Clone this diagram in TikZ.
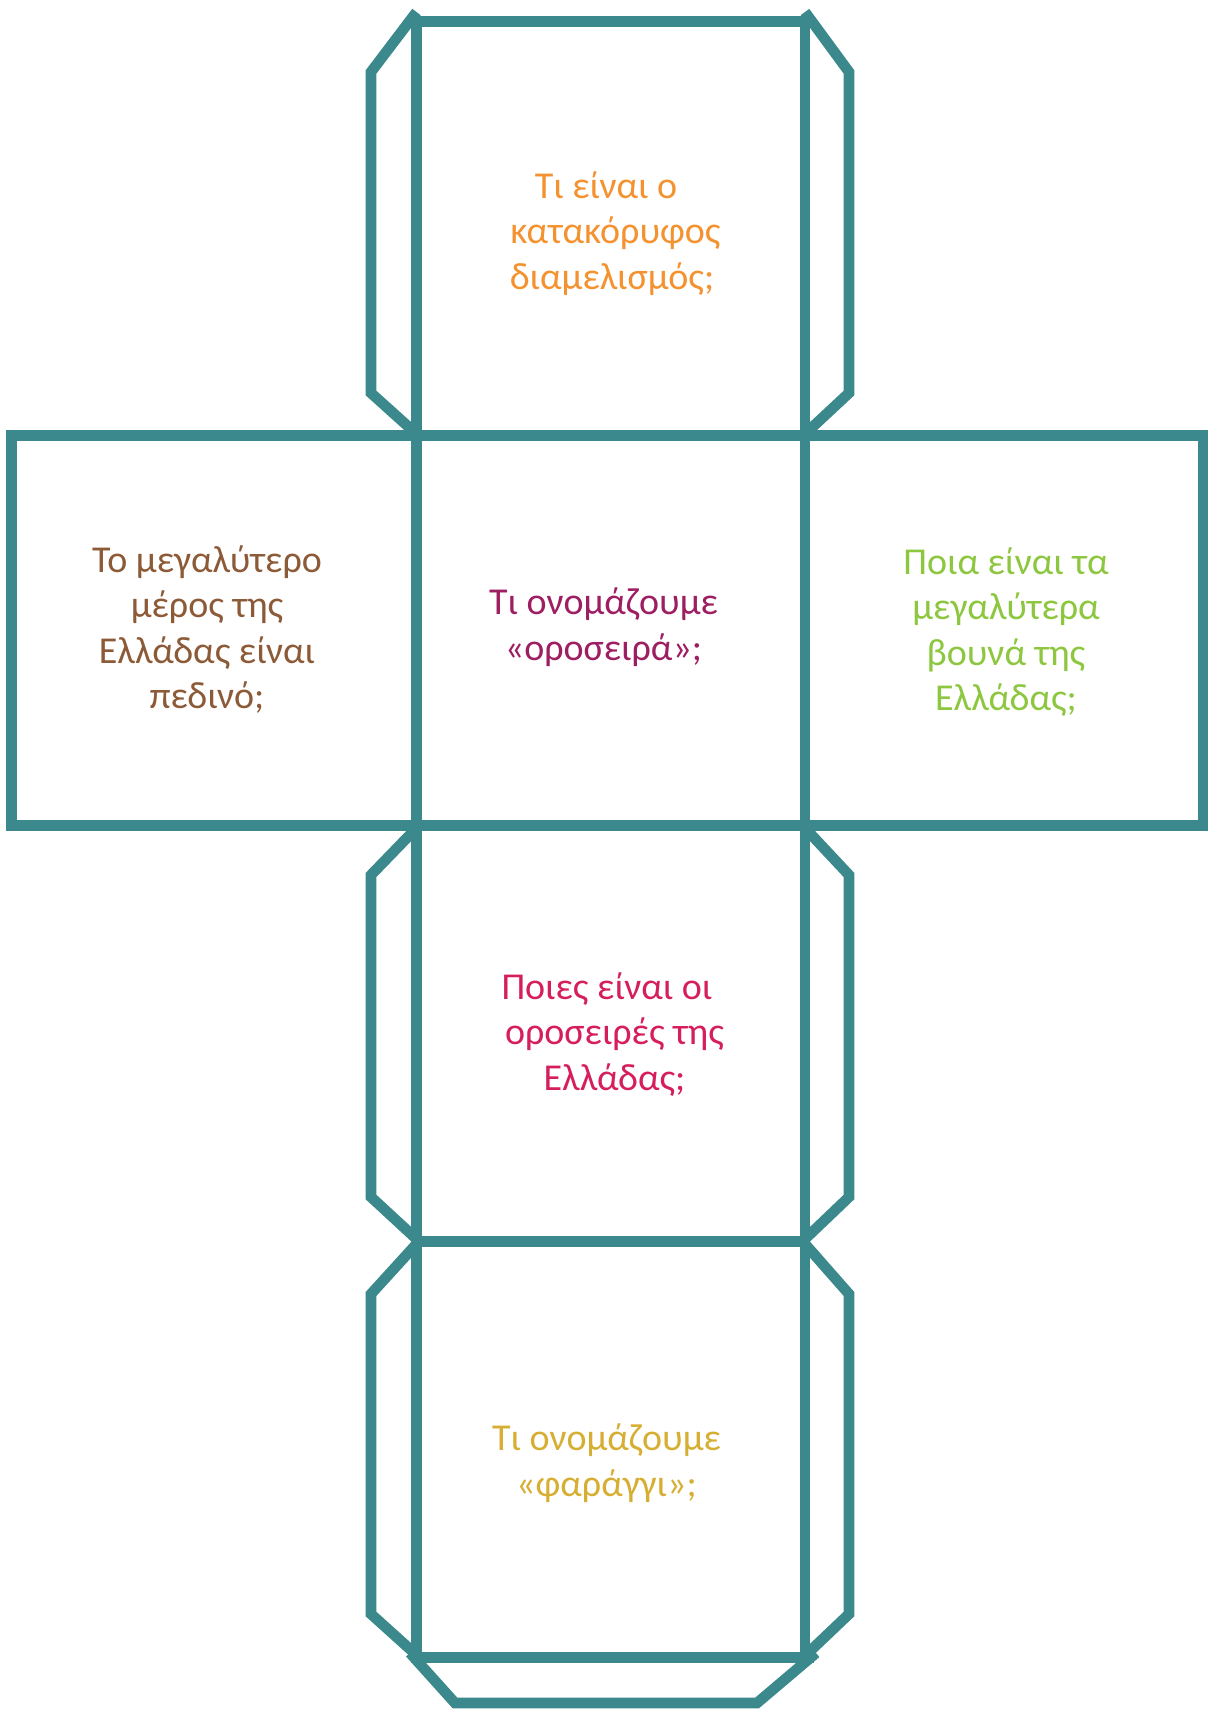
\documentclass[tikz,border=0pt]{standalone}
\usepackage{fontspec}
\setmainfont{Carlito}
\definecolor{netline}{RGB}{59,137,140}
\definecolor{qorange}{RGB}{244,146,48}
\definecolor{qbrown}{RGB}{140,90,55}
\definecolor{qmagenta}{RGB}{158,30,98}
\definecolor{qgreen}{RGB}{141,198,63}
\definecolor{qcrimson}{RGB}{214,30,92}
\definecolor{qgold}{RGB}{214,174,50}
\newcommand\mystrut{\rule{0pt}{16pt}}
\begin{document}
\begin{tikzpicture}[x=0.5pt,y=-0.5pt,
  net/.style={draw=netline,line width=5.3pt,line join=miter},
  flap/.style={draw=netline,line width=5.3pt,line join=miter},
  qtext/.style={anchor=north,inner sep=0pt,align=center,font=\fontsize{19}{22.75}\selectfont}]
\useasboundingbox (0,0) rectangle (1208,1709);
% faces
\draw[net] (416.5,21.5) rectangle (805,435.5);
\draw[net] (11.3,435.5) rectangle (416.5,825.3);
\draw[net] (416.5,435.5) rectangle (805,825.3);
\draw[net] (805,435.5) rectangle (1203,825.3);
\draw[net] (416.5,825.3) rectangle (805,1241.3);
\draw[net] (416.5,1241.3) rectangle (805,1657.5);
% flaps of the top face
\draw[flap] (416.5,12) -- (371,72) -- (371,393) -- (416.5,434);
\draw[flap] (805,12) -- (849,72) -- (849,393) -- (805,434);
% flaps of the lower face
\draw[flap] (416.5,828) -- (371,875) -- (371,1197) -- (416.5,1239);
\draw[flap] (805,828) -- (849,875) -- (849,1197) -- (805,1239);
% flaps of the bottom face
\draw[flap] (416.5,1244) -- (371,1294) -- (371,1614) -- (416.5,1655);
\draw[flap] (805,1244) -- (849,1294) -- (849,1614) -- (808,1653);
% bottom tab
\draw[flap] (805,1657.5) -- (814,1657.5);
\draw[flap] (410,1653) -- (455,1703) -- (757,1703) -- (816,1653);
% texts
\node[qtext,text=qorange] (top) at (615.5,166) {\mystrut Τι είναι ο\hspace*{9.5pt}\\κατακόρυφος\\διαμελισμός;\hspace*{3.5pt}};
\node[qtext,text=qbrown] (left) at (207,540) {\mystrut Το μεγαλύτερο\\μέρος της\\Ελλάδας είναι\\πεδινό;};
\node[qtext,text=qmagenta] (centre) at (603.5,582.5) {\mystrut Τι ονομάζουμε\\«οροσειρά»;};
\node[qtext,text=qgreen] (right) at (1006,542) {\mystrut Ποια είναι τα\\μεγαλύτερα\\βουνά της\\Ελλάδας;};
\node[qtext,text=qcrimson] (lower) at (614.5,967) {\mystrut Ποιες είναι οι\hspace*{7.5pt}\\οροσειρές της\hspace*{6pt}\\Ελλάδας;};
\node[qtext,text=qgold] (bottom) at (606.5,1418.5) {\mystrut Τι ονομάζουμε\\«φαράγγι»;};
\end{tikzpicture}
\end{document}
